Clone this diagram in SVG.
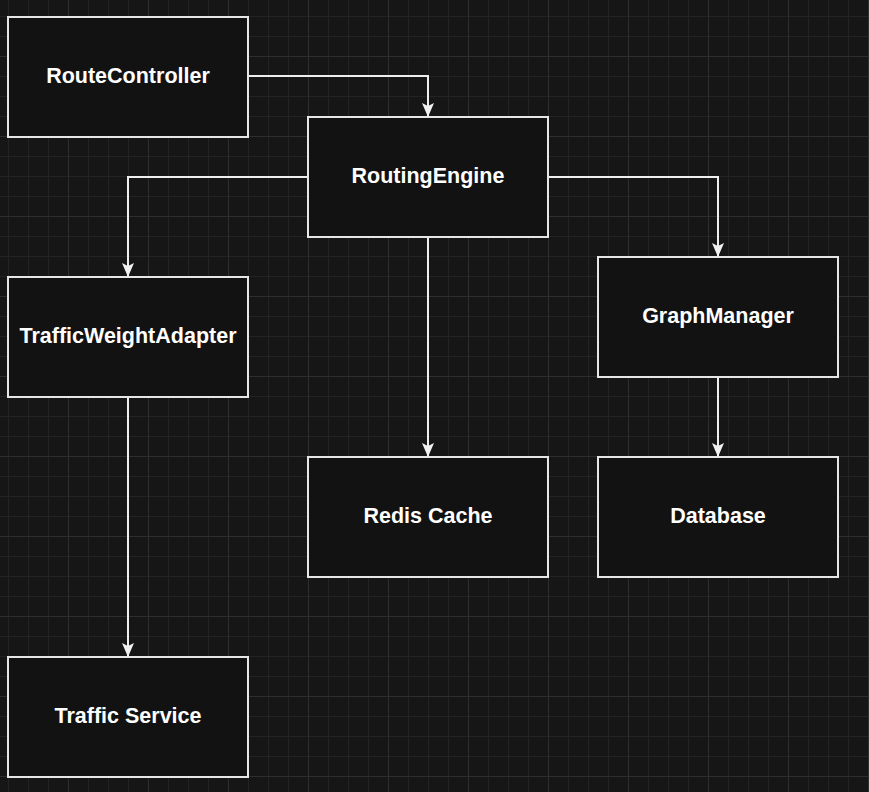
<svg xmlns="http://www.w3.org/2000/svg" width="869" height="792" viewBox="0 0 869 792">
  <defs>
    <pattern id="minor" x="8" y="16" width="20" height="20" patternUnits="userSpaceOnUse">
      <path d="M0.5 0 V20 M0 0.5 H20" stroke="#232323" stroke-width="1" fill="none"/>
    </pattern>
    <pattern id="major" x="68" y="56" width="80" height="80" patternUnits="userSpaceOnUse">
      <path d="M0.5 0 V80 M0 0.5 H80" stroke="#2e2e2e" stroke-width="1" fill="none"/>
    </pattern>
    <marker id="arr" viewBox="0 0 14 12" refX="13" refY="6" markerWidth="14" markerHeight="12" markerUnits="userSpaceOnUse" orient="auto">
      <path d="M0 0 L14 6 L0 12 L3 6 Z" fill="#f0f0f0"/>
    </marker>
    <style>
      .node rect { fill: #121212; stroke: #e6e6e6; stroke-width: 2; }
      .node text { fill: #ffffff; font-family: "Liberation Sans", Arial, sans-serif; font-weight: bold; font-size: 21.5px; text-anchor: middle; }
      .edge { fill: none; stroke: #eeeeee; stroke-width: 2; marker-end: url(#arr); }
    </style>
  </defs>
  <rect width="869" height="792" fill="#161616"/>
  <rect width="869" height="792" fill="url(#minor)"/>
  <rect width="869" height="792" fill="url(#major)"/>

  <g id="connectors">
    <path class="edge" d="M248 76 H428 V116"/>
    <path class="edge" d="M308 177 H128 V276"/>
    <path class="edge" d="M548 177 H718 V256"/>
    <path class="edge" d="M428 237 V456"/>
    <path class="edge" d="M718 377 V456"/>
    <path class="edge" d="M128 397 V656"/>
  </g>

  <g id="RouteController" class="node">
    <rect x="8" y="17" width="240" height="120"/>
    <text x="128" y="83">RouteController</text>
  </g>
  <g id="RoutingEngine" class="node">
    <rect x="308" y="117" width="240" height="120"/>
    <text x="428" y="183">RoutingEngine</text>
  </g>
  <g id="TrafficWeightAdapter" class="node">
    <rect x="8" y="277" width="240" height="120"/>
    <text x="128" y="343">TrafficWeightAdapter</text>
  </g>
  <g id="GraphManager" class="node">
    <rect x="598" y="257" width="240" height="120"/>
    <text x="718" y="323">GraphManager</text>
  </g>
  <g id="RedisCache" class="node">
    <rect x="308" y="457" width="240" height="120"/>
    <text x="428" y="523">Redis Cache</text>
  </g>
  <g id="Database" class="node">
    <rect x="598" y="457" width="240" height="120"/>
    <text x="718" y="523">Database</text>
  </g>
  <g id="TrafficService" class="node">
    <rect x="8" y="657" width="240" height="120"/>
    <text x="128" y="723">Traffic Service</text>
  </g>
</svg>
